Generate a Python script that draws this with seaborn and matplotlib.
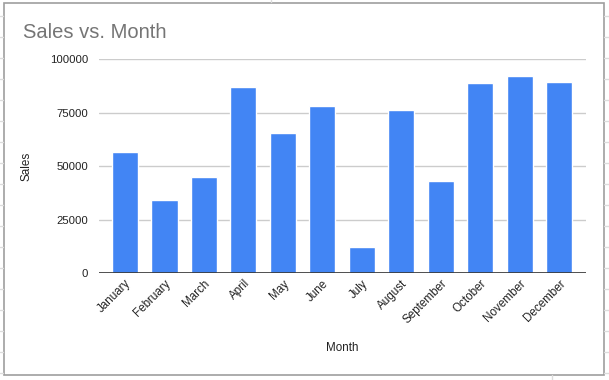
import matplotlib
matplotlib.use("Agg")
import matplotlib.pyplot as plt
import seaborn as sns
import pandas as pd
from matplotlib.lines import Line2D
from matplotlib.patches import Rectangle

months = ['January', 'February', 'March', 'April', 'May', 'June', 'July',
          'August', 'September', 'October', 'November', 'December']
sales = [56500, 34300, 44900, 86900, 65400, 78200, 12100,
         76300, 43100, 88900, 92100, 89400]
yticks = [0, 25000, 50000, 75000, 100000]

df = pd.DataFrame({'Month': months, 'Sales': sales})

sns.set_style('white')
plt.rcParams['font.family'] = ['Liberation Sans', 'DejaVu Sans']

W, H = 609, 380
fig = plt.figure(figsize=(W / 100, H / 100), dpi=100)
ax = fig.add_axes([99 / W, 1 - 273.3 / H, (586 - 99) / W, (273.3 - 59.3) / H])

sns.barplot(data=df, x='Month', y='Sales', color='#4285f4', saturation=1,
            width=0.66, ax=ax, zorder=3)

ax.set_xlim(-0.66, 11.68)
ax.set_ylim(0, 100000)
ax.set_yticks(yticks)
ax.set_yticklabels([str(v) for v in yticks], fontsize=8.2, color='#222222')
ax.tick_params(axis='y', length=0, pad=8)
ax.tick_params(axis='x', length=0, pad=3)
ax.grid(axis='y', color='#cccccc', lw=1, zorder=0)
ax.axhline(0, color='#333333', lw=1.2, zorder=4)
for s in ax.spines.values():
    s.set_visible(False)

for lab in ax.get_xticklabels():
    lab.set_rotation(45)
    lab.set_ha('right')
    lab.set_rotation_mode('anchor')
    lab.set_fontsize(8.4)
    lab.set_color('#222222')

ax.set_xlabel('Month', fontsize=8.4, color='#222222', labelpad=0)
ax.xaxis.set_label_coords(0.5, 1 - (348 - 59.3) / 214)
ax.xaxis.label.set_va('center')
ax.set_ylabel('Sales', fontsize=8.4, color='#222222')
ax.yaxis.set_label_coords(-(99 - 27) / 487, 0.5)
ax.yaxis.label.set_va('center')

fig.text(23 / W, 1 - 32 / H, 'Sales vs. Month', fontsize=14.5,
         color='#757575', va='center', ha='left')

# spreadsheet grid peeking out behind the chart frame
for y in range(16, H, 21):
    yf = 1 - y / H
    fig.add_artist(Line2D([0, 3 / W], [yf, yf], color='#dcdcdc', lw=1))
    fig.add_artist(Line2D([604 / W, 1], [yf, yf], color='#dcdcdc', lw=1))
fig.add_artist(Line2D([271 / W, 271 / W], [1 - 2 / H, 1], color='#dcdcdc', lw=1))
fig.add_artist(Line2D([552 / W, 552 / W], [0, 1 - 375 / H], color='#dcdcdc', lw=1))

fig.add_artist(Rectangle((3.5 / W, 1 - 374.5 / H), 600.5 / W, 372 / H,
                         fill=False, edgecolor='#9e9e9e', lw=1.2))

fig.savefig('out.png', dpi=100)
